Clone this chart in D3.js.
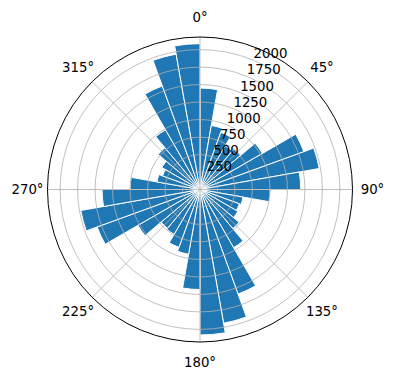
<!DOCTYPE html>
<html>
<head>
<meta charset="utf-8">
<script src="https://cdn.jsdelivr.net/npm/d3@7"></script>
<style>
  body { margin: 0; background: #fff; }
  text { font-family: "DejaVu Sans", sans-serif; font-size: 13.3px; fill: #000; }
</style>
</head>
<body>
<div class="canvas"></div>
<script>
// bins of 10 degrees, clockwise from north
const binStarts = d3.range(0, 360, 10);
const counts = [
  1450, 930, 870, 720, 760, 1030, 1580, 1730, 1440,
  1005, 625, 600, 625, 730, 960, 1590, 1940, 2080,
  1430, 940, 880, 740, 725, 1025, 1565, 1730, 1400,
  1000, 625, 570, 630, 780, 985, 1575, 1965, 2085,
];
const angleTicks = [0, 45, 90, 135, 180, 225, 270, 315];
const radialTicks = [250, 500, 750, 1000, 1250, 1500, 1750, 2000];
const rMax = 2180;

const chartSet = { width: 396, height: 380, radius: 152.5 };
const center = { x: 200, y: 189.5 };

const svg = d3
  .select(".canvas")
  .append("svg")
  .attr("width", chartSet.width)
  .attr("height", chartSet.height);

const g = svg.append("g").attr("transform", `translate(${center.x}, ${center.y})`);

const r = d3.scaleLinear().domain([0, rMax]).range([0, chartSet.radius]);
const rad = (deg) => (deg * Math.PI) / 180;

// bars
const arc = d3
  .arc()
  .innerRadius(0)
  .outerRadius((d) => r(d.value))
  .startAngle((d) => rad(d.start))
  .endAngle((d) => rad(d.start + 10));

g.selectAll("path.bar")
  .data(binStarts.map((s, i) => ({ start: s, value: counts[i] })))
  .enter()
  .append("path")
  .attr("class", "bar")
  .attr("d", arc)
  .attr("fill", "#1f77b4")
  .attr("stroke", "#fff")
  .attr("stroke-width", 1);

// grid on top
g.selectAll("circle.grid")
  .data(radialTicks)
  .enter()
  .append("circle")
  .attr("r", (d) => r(d))
  .attr("fill", "none")
  .attr("stroke", "#b0b0b0")
  .attr("stroke-width", 0.8);

g.selectAll("line.spoke")
  .data(angleTicks)
  .enter()
  .append("line")
  .attr("x1", 0)
  .attr("y1", 0)
  .attr("x2", (d) => chartSet.radius * Math.sin(rad(d)))
  .attr("y2", (d) => -chartSet.radius * Math.cos(rad(d)))
  .attr("stroke", "#b0b0b0")
  .attr("stroke-width", 0.8);

// outer spine
g.append("circle")
  .attr("r", chartSet.radius)
  .attr("fill", "none")
  .attr("stroke", "#000")
  .attr("stroke-width", 1);

// angle labels
const labR = chartSet.radius + 20;
g.selectAll("text.theta")
  .data(angleTicks)
  .enter()
  .append("text")
  .attr("x", (d) => labR * Math.sin(rad(d)))
  .attr("y", (d) => -labR * Math.cos(rad(d)))
  .attr("text-anchor", "middle")
  .attr("dominant-baseline", "central")
  .text((d) => `${d}°`);

// radial labels at 22.5 deg
g.selectAll("text.rlab")
  .data(radialTicks)
  .enter()
  .append("text")
  .attr("x", (d) => r(d) * Math.sin(rad(22.5)))
  .attr("y", (d) => -r(d) * Math.cos(rad(22.5)) - 2)
  .attr("text-anchor", "start")
  .text((d) => d);
</script>
</body>
</html>
